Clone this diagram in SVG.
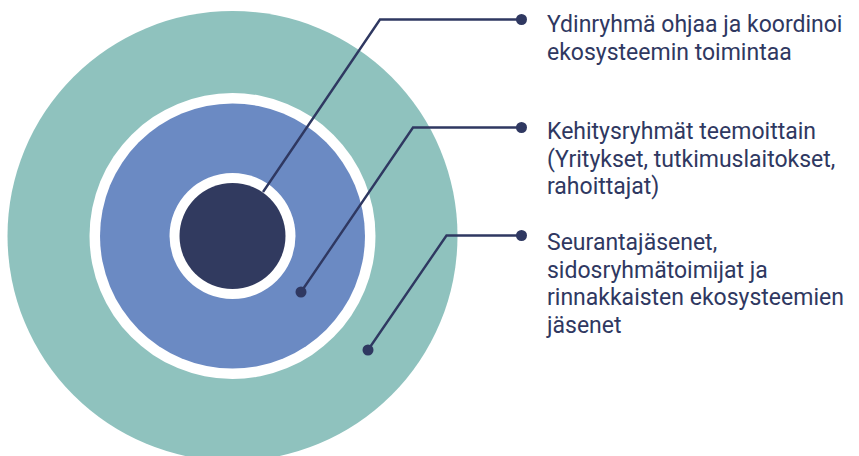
<svg xmlns="http://www.w3.org/2000/svg" width="859" height="456" viewBox="0 0 859 456">
  <style>
    .lead { fill: none; stroke: #2f3861; stroke-width: 2.4; stroke-linejoin: miter; }
    .dot { fill: #2f3861; }
    .label { font-family: Roboto, "Liberation Sans", sans-serif; font-size: 23px; fill: #2f3861; }
  </style>
  <rect width="859" height="456" fill="#ffffff"/>

  <g id="outer-ring">
    <circle cx="232.5" cy="236" r="225" fill="#8fc2be"/>
    <circle cx="232.5" cy="236" r="143" fill="#ffffff"/>
  </g>
  <g id="middle-ring">
    <circle cx="232.5" cy="236" r="132.5" fill="#6b8ac3"/>
    <circle cx="232.5" cy="236" r="63" fill="#ffffff"/>
  </g>
  <g id="core">
    <circle cx="232.5" cy="236" r="53" fill="#313a5f"/>
  </g>

  <g id="connectors">
    <polyline class="lead" points="263,192 380,19.5 521,19.5"/>
    <circle class="dot" cx="521.5" cy="19.5" r="5.5"/>
    <polyline class="lead" points="301,292 413,127.5 521,127.5"/>
    <circle class="dot" cx="301" cy="292" r="5.5"/>
    <circle class="dot" cx="521.5" cy="127.5" r="5.5"/>
    <polyline class="lead" points="368,350 446.5,235.5 521,235.5"/>
    <circle class="dot" cx="368" cy="350" r="5.5"/>
    <circle class="dot" cx="521.5" cy="235.5" r="5.5"/>
  </g>

  <g id="label-core">
    <text class="label" x="547" y="32">Ydinryhmä ohjaa ja koordinoi</text>
    <text class="label" x="547" y="59.5">ekosysteemin toimintaa</text>
  </g>
  <g id="label-middle">
    <text class="label" x="547" y="139">Kehitysryhmät teemoittain</text>
    <text class="label" x="547" y="166.5">(Yritykset, tutkimuslaitokset,</text>
    <text class="label" x="547" y="194">rahoittajat)</text>
  </g>
  <g id="label-outer">
    <text class="label" x="547" y="250">Seurantajäsenet,</text>
    <text class="label" x="547" y="277.5">sidosryhmätoimijat ja</text>
    <text class="label" x="547" y="305">rinnakkaisten ekosysteemien</text>
    <text class="label" x="547" y="332.5">jäsenet</text>
  </g>
</svg>
